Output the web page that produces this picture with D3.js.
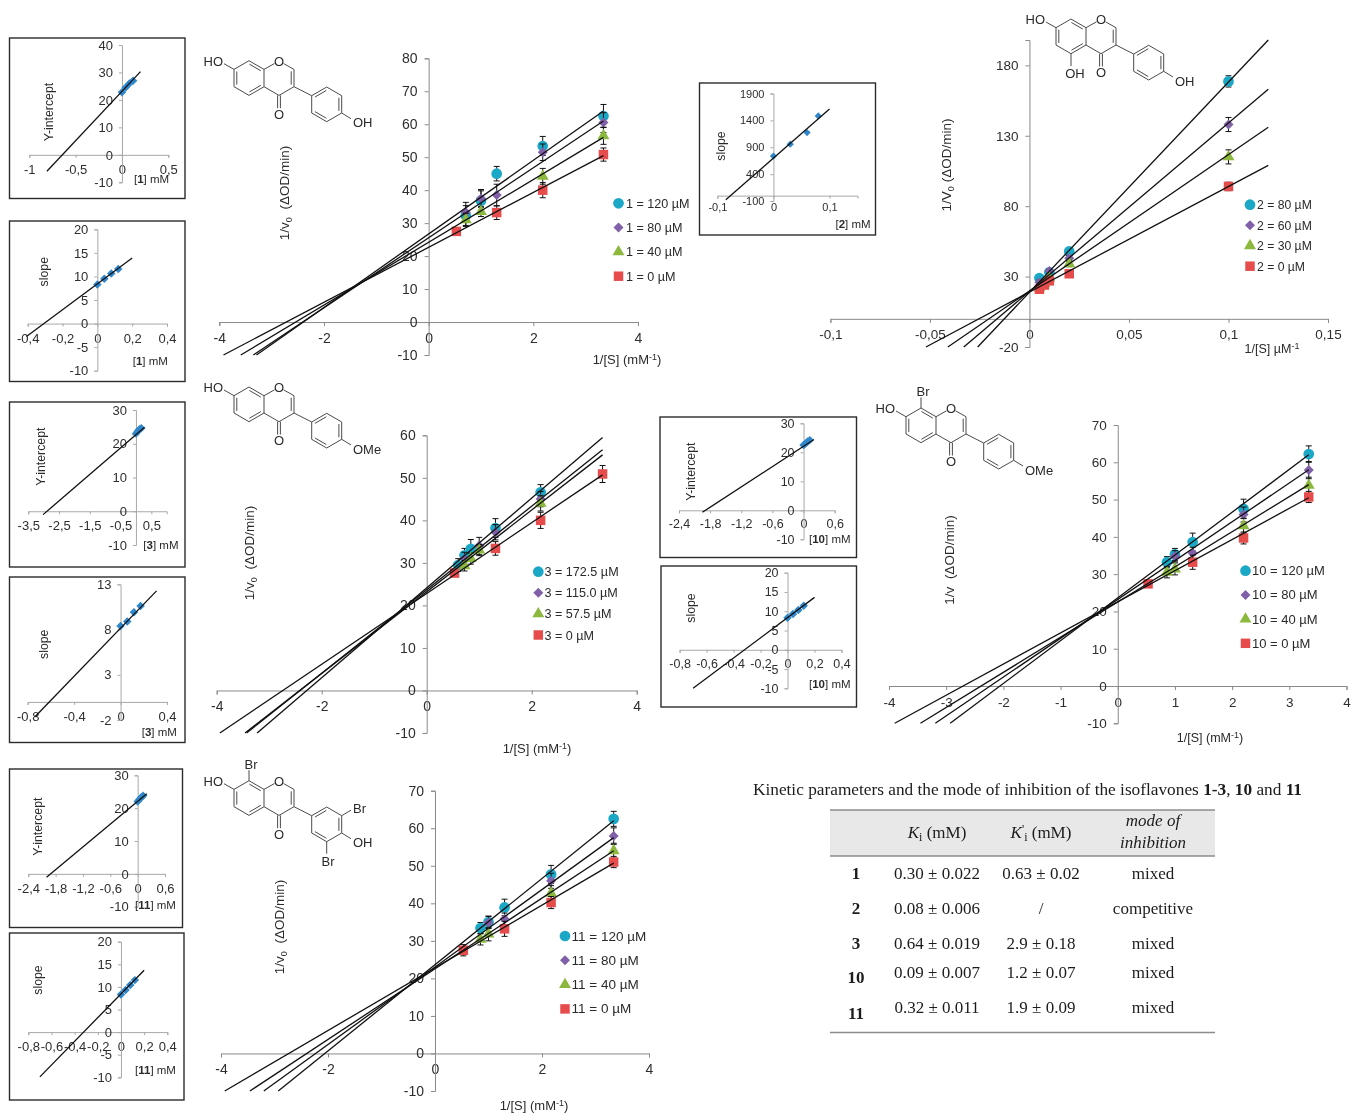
<!DOCTYPE html>
<html>
<head>
  <meta charset="utf-8">
  <title>Isoflavones - inhibition kinetics</title>
  <script src="https://d3js.org/d3.v7.min.js"></script>
  <style>
    body { margin: 0; background: #fff; }
    svg { display: block; font-family: "Liberation Sans", Arial, sans-serif; filter: blur(0.4px); }
    .axis path, .axis line { stroke: #8a8a8a; stroke-width: 1; }
    .axis text { fill: #2e2e2e; font-family: "Liberation Sans", Arial, sans-serif; }
    .inset .axis path, .inset .axis line { stroke: #a8a8a8; }
    .label { fill: #2a2a2a; }
    .fit { stroke: #111; stroke-width: 1.3; fill: none; }
    .err { stroke: #111; stroke-width: 1; fill: none; }
    .bond { stroke: #4a4a4a; stroke-width: 1; fill: none; }
    .atom { fill: #2a2a2a; font-size: 13px; }
    .tbl { font-family: "Liberation Serif", "Times New Roman", serif; fill: #1c1c1c; }
  </style>
</head>
<body>
<svg id="fig" width="1351" height="1115"></svg>
<script>
// compound 1, 1/v0 against 1/[S]
const c1X = [0.53, 0.71, 1, 1.3, 2.18, 3.34];
const c1A = [null, 32.3, 36.8, 45, 53.4, 62.5];
const c1B = [null, 33.3, 37.5, 38.5, 51.5, 60.5];
const c1C = [null, 31, 33.5, null, 44.2, 56.5];
const c1D = [27.5, null, null, 33.2, 40, 50.8];
const c1AErr = [0, 3, 3, 2.2, 2.9, 3.5];
const c1BErr = [0, 3, 2.7, 3.3, 2.5, 3];
const c1CErr = [0, 2, 1.5, 0, 2.4, 2.6];
const c1DErr = [0, 0, 0, 2.1, 2.3, 2];
const c1Fits = [[-3.29, -10, 3.34, 64], [-3.35, -10, 3.34, 61], [-3.59, -10, 3.34, 56], [-3.92, -10, 3.34, 50.5]];
const c1Legend = ["1 = 120 µM", "1 = 80 µM", "1 = 40 µM", "1 = 0 µM"];

// compound 2
const c2X = [0.005, 0.0075, 0.01, 0.02, 0.1];
const c2A = [29, null, 33, 47.9, 168.6];
const c2B = [26, null, 34, 43, 138];
const c2C = [22, 25, 29, 39, 115];
const c2D = [21, 24, 27, 32, 94];
const c2AErr = [1.5, 0, 1.5, 2, 4];
const c2BErr = [1.5, 0, 1.5, 2, 5];
const c2CErr = [1, 1, 1, 2, 5];
const c2DErr = [1, 1, 1, 1.5, 3];
const c2Fits = [[-0.026, -20, 0.12, 198], [-0.033, -20, 0.12, 163], [-0.041, -20, 0.12, 136], [-0.052, -20, 0.12, 109]];
const c2Legend = ["2 = 80 µM", "2 = 60 µM", "2 = 30 µM", "2 = 0 µM"];

// compound 3
const c3X = [0.53, 0.6, 0.72, 0.84, 1, 1.31, 2.17, 3.35];
const c3A = [null, 29.5, 31.8, 33.3, null, 38.2, 46.6, null];
const c3B = [null, null, 31, null, 34, 37.2, 45, null];
const c3C = [null, null, 29.3, 31, 33, null, 44, null];
const c3D = [27.6, null, null, null, null, 33.4, 40, 50.9];
const c3AErr = [0, 1.5, 1.6, 2.2, 0, 2.2, 1.8, 0];
const c3BErr = [0, 0, 1.5, 0, 2, 1.8, 1.8, 0];
const c3CErr = [0, 0, 1.2, 1.3, 1.3, 0, 1.8, 0];
const c3DErr = [0, 0, 0, 0, 0, 1.6, 1.9, 2];
const c3Fits = [[-3.23, -10, 3.35, 59.5], [-3.43, -10, 3.35, 56.6], [-3.46, -10, 3.35, 55.4], [-3.94, -10, 3.35, 50.7]];
const c3Legend = ["3 = 172.5 µM", "3 = 115.0 µM", "3 = 57.5 µM", "3 = 0 µM"];

// compound 10
const c10X = [0.53, 0.86, 1, 1.31, 2.2, 3.34];
const c10A = [null, 33.2, 35.3, 38.6, 47.5, 62.2];
const c10B = [null, null, 34.8, 35.7, 46, 57.9];
const c10C = [null, 30.5, 31.4, null, 43, 53.8];
const c10D = [27.4, null, null, 33.2, 39.7, 50.7];
const c10AErr = [0, 1.5, 1.6, 2.4, 2.6, 2.2];
const c10BErr = [0, 0, 1.5, 1.5, 2, 2.3];
const c10CErr = [0, 1.5, 1.6, 0, 2, 2.2];
const c10DErr = [0, 0, 0, 1.9, 1.6, 1.5];
const c10Fits = [[-2.93, -10, 3.34, 62], [-3.19, -10, 3.34, 58], [-3.45, -10, 3.34, 54], [-3.9, -10, 3.34, 50.5]];
const c10Legend = ["10 = 120 µM", "10 = 80 µM", "10 = 40 µM", "10 = 0 µM"];

// compound 11
const c11X = [0.53, 0.85, 1, 1.3, 2.17, 3.34];
const c11A = [null, 33.4, 35, 38.9, 47.7, 62.5];
const c11B = [null, null, 34.9, 35.8, 46, 57.9];
const c11C = [null, 30.4, 31.8, null, 42.7, 54];
const c11D = [27.5, null, null, 33.2, 40.2, 51];
const c11AErr = [0, 1.5, 1.6, 2.2, 2.4, 2];
const c11BErr = [0, 0, 1.6, 1.6, 2, 2.2];
const c11CErr = [0, 1.5, 1.8, 0, 2, 2];
const c11DErr = [1.5, 0, 0, 2, 1.6, 1.5];
const c11Fits = [[-2.93, -10, 3.34, 62], [-3.2, -10, 3.34, 57.5], [-3.46, -10, 3.34, 54], [-3.93, -10, 3.34, 50.7]];
const c11Legend = ["11 = 120 µM", "11 = 80 µM", "11 = 40 µM", "11 = 0 µM"];

// secondary plots
const inhib1 = [0, 0.04, 0.08, 0.12];
const intercept1 = [22.8, 24.5, 26, 27];
const slope1 = [8.3, 9.5, 10.6, 11.6];
const intercept1Fit = [-0.81, -6, 0.2, 30.3];
const slope1Fit = [-0.407, -2.75, 0.2, 13.9];
const inhib2 = [0, 0.03, 0.06, 0.08];
const slope2 = [735, 957, 1174, 1482];
const slope2Fit = [-0.085, -75, 0.1, 1610];
const inhib3 = [0, 0.0575, 0.115, 0.1725];
const intercept3 = [23, 23.7, 24.3, 24.6];
const slope3 = [8.4, 8.9, 9.9, 10.6];
const intercept3Fit = [-3.02, -1, 0.28, 24.9];
const slope3Fit = [-0.737, -1.64, 0.31, 12.27];
const inhib10 = [0, 0.04, 0.08, 0.12];
const intercept10 = [22.5, 23, 23.7, 24.2];
const slope10 = [8.3, 9.3, 10.3, 11.4];
const intercept10Fit = [-1.95, -0.7, 0.2, 24.4];
const slope10Fit = [-0.7, -10, 0.2, 13.6];
const inhib11 = [0, 0.04, 0.08, 0.12];
const intercept11 = [22, 22.7, 23.3, 23.8];
const slope11 = [8.3, 9.3, 10.4, 11.5];
const intercept11Fit = [-2, -1, 0.2, 24.4];
const slope11Fit = [-0.7, -9.9, 0.2, 13.7];

// table
const tblIds = ["1", "2", "3", "10", "11"];
const tblKi = ["0.30 ± 0.022", "0.08 ± 0.006", "0.64 ± 0.019", "0.09 ± 0.007", "0.32 ± 0.011"];
const tblKip = ["0.63 ± 0.02", "/", "2.9 ± 0.18", "1.2 ± 0.07", "1.9 ± 0.09"];
const tblMode = ["mixed", "competitive", "mixed", "mixed", "mixed"];

const seriesColors = ["#1ba8c6", "#8060a8", "#8cb83e", "#e64c4c"];
const seriesShapes = [d3.symbolCircle, d3.symbolSquare, d3.symbolTriangle, d3.symbolSquare];
const seriesSizes = [90, 50, 62, 90];
const seriesTurn = [0, 45, 0, 0];

const svg = d3.select("#fig");
const comma = d => String(d).replace(".", ",");
const symbol = (i) => d3.symbol().type(seriesShapes[i]).size(seriesSizes[i])();

function mainChart(o) {
  const x = d3.scaleLinear().domain(o.xDom).range(o.xPx);
  const y = d3.scaleLinear().domain(o.yDom).range(o.yPx);
  const g = svg.append("g");

  g.append("g").attr("class", "axis")
    .attr("transform", "translate(0," + y(0) + ")")
    .call(d3.axisBottom(x).tickValues(o.xTicks).tickFormat(comma).tickSize(4).tickPadding(7))
    .selectAll("text").style("font-size", o.font + "px");
  g.append("g").attr("class", "axis")
    .attr("transform", "translate(" + x(0) + ",0)")
    .call(d3.axisLeft(y).tickValues(o.yTicks).tickFormat(comma).tickSize(4).tickPadding(7))
    .selectAll("text").style("font-size", o.font + "px");

  // error bars + markers, first series at the back
  o.series.forEach((vals, i) => {
    const pts = o.xs.map((v, k) => ({ x: v, y: vals[k], e: o.errs[i][k] })).filter(d => d.y != null);
    const withErr = pts.filter(d => d.e > 0);
    g.selectAll(null).data(withErr).enter().append("path")
      .attr("class", "err")
      .attr("d", d => {
        const px = x(d.x), hi = y(d.y + d.e), lo = y(d.y - d.e);
        return "M" + (px - 3) + "," + hi + "H" + (px + 3) + "M" + px + "," + hi + "V" + lo + "M" + (px - 3) + "," + lo + "H" + (px + 3);
      });
    g.selectAll(null).data(pts).enter().append("path")
      .attr("d", symbol(i))
      .attr("fill", seriesColors[i])
      .attr("transform", d => "translate(" + x(d.x) + "," + y(d.y) + ") rotate(" + seriesTurn[i] + ")");
  });

  g.selectAll(null).data(o.fits).enter().append("line")
    .attr("class", "fit")
    .attr("x1", d => x(d[0])).attr("y1", d => y(d[1]))
    .attr("x2", d => x(d[2])).attr("y2", d => y(d[3]));

  // legend
  o.legend.forEach((t, i) => {
    const ly = o.legPos[2] + i * o.legPos[3];
    g.append("path").attr("d", symbol(i)).attr("fill", seriesColors[i])
      .attr("transform", "translate(" + o.legPos[0] + "," + ly + ") rotate(" + seriesTurn[i] + ")");
    g.append("text").attr("class", "label").attr("x", o.legPos[1]).attr("y", ly + 4.5)
      .style("font-size", o.legFont + "px").text(t);
  });

  // y title with subscript
  const yt = g.append("text").attr("class", "label")
    .attr("text-anchor", "middle").style("font-size", "13.5px")
    .attr("transform", "translate(" + o.yLab[0] + "," + o.yLab[1] + ") rotate(-90)");
  yt.append("tspan").text(o.yText);
  if (o.ySub) {
    yt.append("tspan").attr("dy", 3).style("font-size", "9px").text("0");
    yt.append("tspan").attr("dy", -3).text("\u00a0" + o.yRest);
  } else {
    yt.append("tspan").text("\u00a0" + o.yRest);
  }

  // x title with superscript
  const xt = g.append("text").attr("class", "label")
    .attr("text-anchor", "middle").style("font-size", (o.font - 1) + "px")
    .attr("x", o.xLab[0]).attr("y", o.xLab[1]);
  xt.append("tspan").text(o.xText);
  xt.append("tspan").attr("dy", -4).style("font-size", "9px").text("-1");
  xt.append("tspan").attr("dy", 4).text(o.xEnd);
}

function inset(o) {
  const x = d3.scaleLinear().domain(o.xDom).range(o.xPx);
  const y = d3.scaleLinear().domain(o.yDom).range(o.yPx);
  const g = svg.append("g").attr("class", "inset");

  g.append("rect")
    .attr("x", o.box[0]).attr("y", o.box[1])
    .attr("width", o.box[2] - o.box[0]).attr("height", o.box[3] - o.box[1])
    .attr("fill", "#fff").attr("stroke", "#2b2b2b").attr("stroke-width", 1.4);

  g.append("g").attr("class", "axis")
    .attr("transform", "translate(0," + y(0) + ")")
    .call(d3.axisBottom(x).tickValues(o.xTicks).tickFormat(comma).tickSize(3).tickPadding(o.xPad))
    .selectAll("text").style("font-size", o.font + "px");
  g.append("g").attr("class", "axis")
    .attr("transform", "translate(" + x(0) + ",0)")
    .call(d3.axisLeft(y).tickValues(o.yTicks).tickFormat(comma).tickSize(3).tickPadding(6))
    .selectAll("text").style("font-size", o.font + "px");

  g.selectAll(null).data(o.xs.map((v, k) => [v, o.ys[k]])).enter().append("path")
    .attr("d", d3.symbol().type(d3.symbolSquare).size(o.ptSize || 36)())
    .attr("fill", "#2f87cb")
    .attr("transform", d => "translate(" + x(d[0]) + "," + y(d[1]) + ") rotate(45)");

  g.append("line").attr("class", "fit")
    .attr("x1", x(o.fit[0])).attr("y1", y(o.fit[1]))
    .attr("x2", x(o.fit[2])).attr("y2", y(o.fit[3]));

  g.append("text").attr("class", "label").attr("text-anchor", "middle")
    .style("font-size", "12.3px")
    .attr("transform", "translate(" + o.yLab[0] + "," + o.yLab[1] + ") rotate(-90)")
    .text(o.yText);

  const lab = g.append("text").attr("class", "label").style("font-size", "11.5px")
    .attr("x", o.xLab[0]).attr("y", o.xLab[1]);
  lab.append("tspan").text("[");
  lab.append("tspan").style("font-weight", "bold").text(o.id);
  lab.append("tspan").text("] mM");
}

// isoflavone skeleton, bonds in px around the top atom of ring A
function molecule(ox, oy, subs) {
  const g = svg.append("g").attr("transform", "translate(" + ox + "," + oy + ")");
  const bond = (a, b, c, d) => g.append("line").attr("class", "bond").attr("x1", a).attr("y1", b).attr("x2", c).attr("y2", d);
  const atom = (t, a, b, anchor) => g.append("text").attr("class", "atom").attr("x", a).attr("y", b + 4.5)
    .attr("text-anchor", anchor || "middle").text(t);
  const inner = (p, q, c) => {
    const mx = (p[0] + q[0]) / 2, my = (p[1] + q[1]) / 2;
    const len = Math.hypot(mx - c[0], my - c[1]);
    const dx = (c[0] - mx) / len * 2.8, dy = (c[1] - my) / len * 2.8;
    bond(p[0] + dx + (q[0] - p[0]) * 0.12, p[1] + dy + (q[1] - p[1]) * 0.12,
         q[0] + dx - (q[0] - p[0]) * 0.12, q[1] + dy - (q[1] - p[1]) * 0.12);
  };
  const ringA = [[0, 0], [15, 8.7], [15, 26], [0, 34.7], [-15, 26], [-15, 8.7]];
  const ringB = [[62.7, 35], [77.7, 26.3], [92.7, 35], [92.7, 52.3], [77.7, 61], [62.7, 52.3]];
  [ringA, ringB].forEach(r => r.forEach((p, i) => {
    const q = r[(i + 1) % 6];
    bond(p[0], p[1], q[0], q[1]);
  }));
  inner(ringA[0], ringA[1], [0, 17.3]);
  inner(ringA[2], ringA[3], [0, 17.3]);
  inner(ringA[4], ringA[5], [0, 17.3]);
  inner(ringB[0], ringB[1], [77.7, 43.7]);
  inner(ringB[2], ringB[3], [77.7, 43.7]);
  inner(ringB[4], ringB[5], [77.7, 43.7]);
  // pyranone ring
  bond(15, 8.7, 25.5, 2.8);
  bond(34.5, 2.8, 45, 8.7);
  bond(45, 8.7, 45, 26);
  inner([45, 8.7], [45, 26], [30, 17.3]);
  bond(45, 26, 30, 34.7);
  bond(30, 34.7, 15, 26);
  bond(45, 26, 62.7, 35);
  bond(28.6, 34.7, 28.6, 47.5);
  bond(31.4, 34.7, 31.4, 47.5);
  atom("O", 30, 0.5);
  atom("O", 30, 53.5);
  bond(-15, 8.7, -25, 3);
  atom("HO", -26, 0.5, "end");
  bond(92.7, 52.3, 102, 58);
  atom(subs.para, 104, 62, "start");
  if (subs.oh5) { bond(0, 34.7, 0, 47); atom("OH", 4, 54); }
  if (subs.br8) { bond(0, 0, 0, -10.5); atom("Br", 2, -16.5); }
  if (subs.br35) {
    bond(92.7, 35, 102, 29.5); atom("Br", 104, 28, "start");
    bond(77.7, 61, 77.7, 73); atom("Br", 79, 80.5);
  }
}

const mm1 = "1/[S] (mM";

mainChart({
  xDom: [-4, 4], xPx: [219.3, 638], yDom: [-10, 80], yPx: [355, 58.3],
  xTicks: [-4, -2, 0, 2, 4], yTicks: [-10, 0, 10, 20, 30, 40, 50, 60, 70, 80], font: 14,
  xs: c1X, series: [c1A, c1B, c1C, c1D], errs: [c1AErr, c1BErr, c1CErr, c1DErr], fits: c1Fits,
  legend: c1Legend, legPos: [618.5, 626, 203.3, 24.3], legFont: 12.6,
  yLab: [289, 193], yText: "1/v", ySub: true, yRest: "\u00a0(ΔOD/min)",
  xLab: [627, 364], xText: mm1, xEnd: ")"
});
mainChart({
  xDom: [-0.1, 0.15], xPx: [830.4, 1328], yDom: [-20, 198], yPx: [347, 40],
  xTicks: [-0.1, -0.05, 0, 0.05, 0.1, 0.15], yTicks: [-20, 30, 80, 130, 180], font: 13.5,
  xs: c2X, series: [c2A, c2B, c2C, c2D], errs: [c2AErr, c2BErr, c2CErr, c2DErr], fits: c2Fits,
  legend: c2Legend, legPos: [1250, 1257, 204.7, 20.5], legFont: 12.2,
  yLab: [951, 165], yText: "1/V", ySub: true, yRest: "(ΔOD/min)",
  xLab: [1272, 353], xText: "1/[S] µM", xEnd: ""
});
mainChart({
  xDom: [-4, 4], xPx: [216.7, 636.7], yDom: [-10, 60], yPx: [733, 435.3],
  xTicks: [-4, -2, 0, 2, 4], yTicks: [-10, 0, 10, 20, 30, 40, 50, 60], font: 14,
  xs: c3X, series: [c3A, c3B, c3C, c3D], errs: [c3AErr, c3BErr, c3CErr, c3DErr], fits: c3Fits,
  legend: c3Legend, legPos: [538.3, 544.5, 571.7, 21.1], legFont: 12.6,
  yLab: [254, 553], yText: "1/v", ySub: true, yRest: "\u00a0(ΔOD/min)",
  xLab: [537, 753], xText: mm1, xEnd: ")"
});
mainChart({
  xDom: [-4, 4], xPx: [889, 1346.5], yDom: [-10, 70], yPx: [723.3, 425],
  xTicks: [-4, -3, -2, -1, 0, 1, 2, 3, 4], yTicks: [-10, 0, 10, 20, 30, 40, 50, 60, 70], font: 13.5,
  xs: c10X, series: [c10A, c10B, c10C, c10D], errs: [c10AErr, c10BErr, c10CErr, c10DErr], fits: c10Fits,
  legend: c10Legend, legPos: [1245.5, 1252, 570.7, 24.2], legFont: 13,
  yLab: [954, 560], yText: "1/v", ySub: false, yRest: "\u00a0(ΔOD/min)",
  xLab: [1210, 742], xText: mm1, xEnd: ")"
});
mainChart({
  xDom: [-4, 4], xPx: [221, 649], yDom: [-10, 70], yPx: [1091, 790.7],
  xTicks: [-4, -2, 0, 2, 4], yTicks: [-10, 0, 10, 20, 30, 40, 50, 60, 70], font: 14,
  xs: c11X, series: [c11A, c11B, c11C, c11D], errs: [c11AErr, c11BErr, c11CErr, c11DErr], fits: c11Fits,
  legend: c11Legend, legPos: [565, 571.5, 936, 24.3], legFont: 13.5,
  yLab: [284, 927], yText: "1/v", ySub: true, yRest: "\u00a0(ΔOD/min)",
  xLab: [534, 1110], xText: mm1, xEnd: ")"
});

inset({
  box: [9.5, 38, 185, 198.5], xDom: [-1, 0.5], xPx: [29.3, 168.3], yDom: [-10, 40], yPx: [182.3, 45],
  xTicks: [-1, -0.5, 0, 0.5], yTicks: [-10, 0, 10, 20, 30, 40], font: 13, xPad: 7,
  xs: inhib1, ys: intercept1, fit: intercept1Fit,
  yLab: [53, 112], yText: "Y-intercept", xLab: [134, 183], id: "1"
});
inset({
  box: [9.5, 221, 185, 381.5], xDom: [-0.4, 0.4], xPx: [27.7, 167], yDom: [-10, 20], yPx: [370.7, 229.3],
  xTicks: [-0.4, -0.2, 0, 0.2, 0.4], yTicks: [-10, -5, 0, 5, 10, 15, 20], font: 13, xPad: 7,
  xs: inhib1, ys: slope1, fit: slope1Fit,
  yLab: [48, 271.7], yText: "slope", xLab: [132.7, 364.5], id: "1"
});
inset({
  box: [699.5, 83, 875.5, 235], xDom: [-0.1, 0.15], xPx: [717.4, 857.5], yDom: [-100, 1900], yPx: [201, 93.5],
  xTicks: [-0.1, 0, 0.1], yTicks: [-100, 400, 900, 1400, 1900], font: 11, xPad: 5,
  xs: inhib2, ys: slope2, fit: slope2Fit, ptSize: 26,
  yLab: [725, 146], yText: "slope", xLab: [835.5, 228], id: "2"
});
inset({
  box: [9.5, 402, 185, 567], xDom: [-3.5, 1], xPx: [28.3, 166.7], yDom: [-10, 30], yPx: [545, 410],
  xTicks: [-3.5, -2.5, -1.5, -0.5, 0.5], yTicks: [-10, 0, 10, 20, 30], font: 13, xPad: 7,
  xs: inhib3, ys: intercept3, fit: intercept3Fit,
  yLab: [45, 456.7], yText: "Y-intercept", xLab: [143.3, 549], id: "3"
});
inset({
  box: [9.5, 577, 185, 742.5], xDom: [-0.8, 0.4], xPx: [27.7, 167], yDom: [-2, 13], yPx: [720, 584.3],
  xTicks: [-0.8, -0.4, 0, 0.4], yTicks: [-2, 3, 8, 13], font: 13, xPad: 7,
  xs: inhib3, ys: slope3, fit: slope3Fit,
  yLab: [48, 644.3], yText: "slope", xLab: [141.7, 736], id: "3"
});
inset({
  box: [660, 417, 856.5, 557.5], xDom: [-2.4, 0.6], xPx: [679, 834.7], yDom: [-10, 30], yPx: [539.3, 423.3],
  xTicks: [-2.4, -1.8, -1.2, -0.6, 0, 0.6], yTicks: [-10, 0, 10, 20, 30], font: 12.5, xPad: 6,
  xs: inhib10, ys: intercept10, fit: intercept10Fit,
  yLab: [695, 471.7], yText: "Y-intercept", xLab: [809, 543], id: "10"
});
inset({
  box: [661, 566, 856.5, 707], xDom: [-0.8, 0.4], xPx: [679.6, 841.5], yDom: [-10, 20], yPx: [688.3, 572.7],
  xTicks: [-0.8, -0.6, -0.4, -0.2, 0, 0.2, 0.4], yTicks: [-10, -5, 0, 5, 10, 15, 20], font: 12.5, xPad: 6,
  xs: inhib10, ys: slope10, fit: slope10Fit,
  yLab: [695, 608], yText: "slope", xLab: [809, 688], id: "10"
});
inset({
  box: [9.5, 769, 182.5, 927.5], xDom: [-2.4, 0.6], xPx: [28.3, 165], yDom: [-10, 30], yPx: [906.7, 775.3],
  xTicks: [-2.4, -1.8, -1.2, -0.6, 0, 0.6], yTicks: [-10, 0, 10, 20, 30], font: 13, xPad: 7,
  xs: inhib11, ys: intercept11, fit: intercept11Fit,
  yLab: [42, 826.7], yText: "Y-intercept", xLab: [135, 909], id: "11"
});
inset({
  box: [9.5, 933, 184, 1100], xDom: [-0.8, 0.4], xPx: [28.3, 167.3], yDom: [-10, 20], yPx: [1077.3, 941.7],
  xTicks: [-0.8, -0.6, -0.4, -0.2, 0, 0.2, 0.4], yTicks: [-10, -5, 0, 5, 10, 15, 20], font: 13, xPad: 7,
  xs: inhib11, ys: slope11, fit: slope11Fit,
  yLab: [42, 980], yText: "slope", xLab: [135, 1074], id: "11"
});

molecule(249, 60.7, { para: "OH" });
molecule(1071, 19, { para: "OH", oh5: true });
molecule(249, 387, { para: "OMe" });
molecule(921, 408, { para: "OMe", br8: true });
molecule(249, 780.7, { para: "OH", br8: true, br35: true });

// table of kinetic parameters
const tbl = svg.append("g").attr("class", "tbl");
const title = tbl.append("text").attr("x", 1027.5).attr("y", 795).attr("text-anchor", "middle").style("font-size", "17.3px");
[["Kinetic parameters and the mode of inhibition of the isoflavones ", 0], ["1-3", 1], [", ", 0], ["10", 1], [" and ", 0], ["11", 1]]
  .forEach(p => title.append("tspan").style("font-weight", p[1] ? "bold" : "normal").text(p[0]));

const colX = { id: 856, ki: 937, kip: 1041, mode: 1153 };
tbl.append("rect").attr("x", 830).attr("y", 810).attr("width", 385).attr("height", 46).attr("fill", "#e8e8e8");
[810, 856, 1032.5].forEach(v => tbl.append("line").attr("x1", 830).attr("x2", 1215).attr("y1", v).attr("y2", v)
  .attr("stroke", "#8c8c8c").attr("stroke-width", 1.4));

function kiHead(cx, prime) {
  const t = tbl.append("text").attr("x", cx).attr("y", 838).attr("text-anchor", "middle").style("font-size", "17px");
  t.append("tspan").style("font-style", "italic").text("K");
  if (prime) t.append("tspan").attr("dy", -5).style("font-size", "12px").text("'");
  t.append("tspan").attr("dy", prime ? 8 : 3).style("font-size", "12px").text("i");
  t.append("tspan").attr("dy", -3).text(" (mM)");
}
kiHead(colX.ki, false);
kiHead(colX.kip, true);
["mode of", "inhibition"].forEach((t, i) => tbl.append("text").attr("x", colX.mode).attr("y", 826 + i * 22)
  .attr("text-anchor", "middle").style("font-size", "17px").style("font-style", "italic").text(t));

const rowY = [879, 914, 949, 978, 1013];
const idY = [879, 914, 949, 983, 1019];
tbl.selectAll(null).data(tblIds).enter().append("text")
  .attr("x", colX.id).attr("y", (d, i) => idY[i]).attr("text-anchor", "middle")
  .style("font-size", "17px").style("font-weight", "bold").text(d => d);
[[tblKi, colX.ki], [tblKip, colX.kip], [tblMode, colX.mode]].forEach(c => {
  tbl.selectAll(null).data(c[0]).enter().append("text")
    .attr("x", c[1]).attr("y", (d, i) => rowY[i]).attr("text-anchor", "middle")
    .style("font-size", "17px").text(d => d);
});
</script>
</body>
</html>
